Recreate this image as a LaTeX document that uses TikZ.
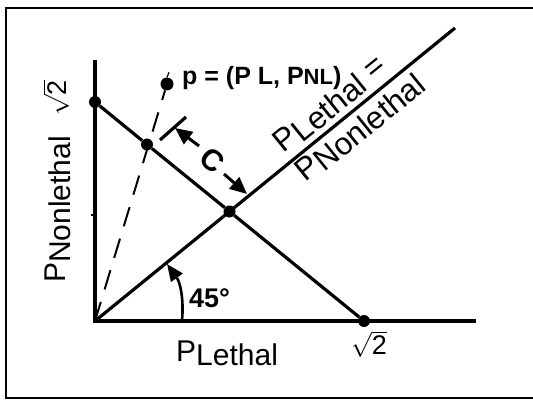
\documentclass[tikz,border=0pt]{standalone}
\usepackage{fontspec}
\setmainfont{Liberation Sans}
\usetikzlibrary{arrows.meta}
\begin{document}
\begin{tikzpicture}[x=1pt,y=-1pt,
  axisline/.style={line width=3.8pt},
  ln/.style={line width=3.2pt},
  dot/.style={circle,fill,inner sep=0pt,minimum size=12pt},
  lbl/.style={font=\fontsize{30}{30}\selectfont, inner sep=0pt},
  dlbl/.style={font=\fontsize{31.5}{31.5}\selectfont, inner sep=0pt, rotate=39, anchor=base west},
  bigtip/.style={-{Triangle[length=17pt,width=15pt]}, line width=3pt},
]
\useasboundingbox (0,0) rectangle (533,401);
% frame
\coordinate (f1) at (533,8);
\coordinate (f2) at (6,8);
\coordinate (f3) at (6,398);
\coordinate (f4) at (533,398);
\draw[line width=2pt] (f1) -- (f2) -- (f3) -- (f4);
% axes
\coordinate (O) at (95,321);
\coordinate (Ytop) at (95,60);
\coordinate (Xend) at (476,321);
\coordinate (Dend) at (455,28);
\draw[axisline] (Ytop) -- (O) -- (Xend);
\coordinate (tk1) at (95,215);
\coordinate (tk2) at (91,215);
\draw[line width=1.4pt] (tk1) -- (tk2);
% dots
\node[dot] (A) at (95,102) {};
\node[dot] (B) at (364,321) {};
\node[dot] (M) at (229.5,211.5) {};
\node[dot] (Q) at (147,144.5) {};
\node[dot, minimum width=12pt, minimum height=13pt] (pd) at (167,84) {};
\draw[line width=1.2pt] (pd.north) -- ++(2,-5);
% lines
\draw[ln] (O) -- (Dend);
\draw[ln] (A) -- (Q) -- (M) -- (B);
\draw[line width=2pt, dash pattern=on 20pt off 13pt] (O) -- (pd);
% C marker
\coordinate (b1) at (160,140);
\coordinate (b2) at (186,117);
\draw[ln] (b1) -- (b2);
\coordinate (a1s) at (199,146);
\coordinate (a1e) at (175,128);
\draw[bigtip] (a1s) -- (a1e);
\coordinate (a2s) at (224,174);
\coordinate (a2e) at (247,194);
\draw[bigtip] (a2s) -- (a2e);
\node[font=\bfseries\fontsize{30}{30}\selectfont, rotate=-39, inner sep=0pt] (C) at (212,160) {C};
% angle arc
\coordinate (arc1) at (182,321);
\coordinate (arc2) at (167,264);
\draw[-{Triangle[length=17pt,width=14pt]}, line width=2.6pt] (arc1) .. controls (184,298) and (180,282) .. (arc2);
\node[font=\bfseries\fontsize{27}{27}\selectfont, anchor=base west, inner sep=0pt] (ang) at (189,307) {45°};
% labels
\node[font=\bfseries\fontsize{25}{25}\selectfont, anchor=base west, inner sep=0pt] (pl) at (182,85) {p = (P L, P{\fontsize{22}{22}\selectfont NL})};
\node[lbl, anchor=base west] (xl) at (176,361) {P\raisebox{-4pt}{Lethal}};
\node[lbl, rotate=90, anchor=base west] (yl) at (65,283) {P\raisebox{-5pt}{Nonlethal}};
\node[dlbl] (dl1) at (283.5,153.5) {P\raisebox{-4pt}{Lethal} =};
\node[dlbl] (dl2) at (305.5,183) {P\raisebox{-4pt}{Nonlethal}};
\node[font=\fontsize{27}{27}\selectfont, inner sep=0pt] (sx) at (369,344) {$\sqrt{\mbox{2}}$};
\node[font=\fontsize{27}{27}\selectfont, rotate=90, inner sep=0pt] (sy) at (56,98) {$\sqrt{\mbox{2}}$};
\end{tikzpicture}
\end{document}
